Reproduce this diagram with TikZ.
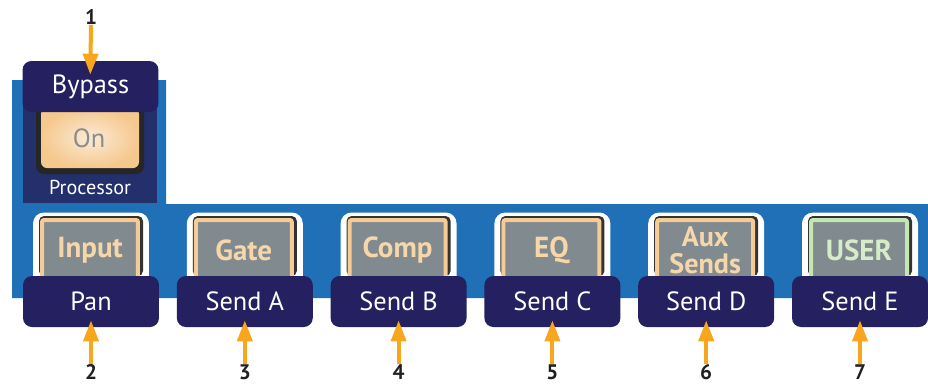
\documentclass[tikz,border=0pt]{standalone}
\usepackage{fontspec}
\setmainfont{PT Sans}
\usetikzlibrary{arrows.meta}
\definecolor{panelblue}{RGB}{32,112,184}
\definecolor{darkpanel}{RGB}{36,48,108}
\definecolor{navy}{RGB}{37,32,96}
\definecolor{arroworange}{RGB}{247,166,30}
\definecolor{keygray}{RGB}{128,138,143}
\definecolor{peach}{RGB}{245,204,150}
\definecolor{peachtext}{RGB}{247,214,170}
\definecolor{mint}{RGB}{196,230,176}
\definecolor{minttext}{RGB}{214,236,198}
\definecolor{numtext}{RGB}{35,31,32}
\definecolor{ongray}{RGB}{140,140,140}
\tikzset{
  labelbox/.style={fill=navy, rounded corners=0.18cm, minimum width=2.72cm,
    minimum height=1.02cm, text=white, font=\fontsize{15}{15}\selectfont, inner sep=0pt},
  numlabel/.style={text=numtext, font=\bfseries\fontsize{12}{12}\selectfont, inner sep=0pt},
  pointer/.style={arroworange, line width=0.08cm,
    -{Triangle[length=0.42cm, width=0.3cm]}},
  keyframe/.style={fill=white, rounded corners=0.22cm, minimum width=2.32cm,
    minimum height=1.5cm, inner sep=0pt},
  keycap/.style={fill=keygray, draw=#1, line width=0.08cm, rounded corners=0.04cm,
    minimum width=1.92cm, minimum height=1.2cm, inner sep=0pt, align=center},
  keytext/.style={font=\bfseries\fontsize{16.5}{13}\selectfont},
  auxtext/.style={font=\bfseries\fontsize{16}{15.5}\selectfont},
}
\begin{document}
\begin{tikzpicture}[x=0.02cm, y=-0.02cm]
  \useasboundingbox (0,0) rectangle (928,383);

  % panel
  \fill[panelblue] (12,80) -- (166,80) -- (166,204) -- (928,204) -- (928,298) -- (12,298) -- cycle;
  \fill[darkpanel] (23,80) rectangle (157,203);

  % processor key
  \fill[black!85, rounded corners=0.16cm] (36,104) rectangle (144,174);
  \shade[inner color=peach!40, outer color=peach!95!orange, rounded corners=0.12cm]
    (41,108) rectangle (139,168);
  \node[text=ongray, font=\fontsize{15}{15}\selectfont] (on) at (89,138) {On};
  \node[text=white, font=\fontsize{11.5}{11.5}\selectfont] (proc) at (90,187) {Processor};
  \node[labelbox] (bypass) at (90.5,86.5) {Bypass};

  % bottom keys
  \foreach \i/\key/\kt/\send/\num/\edge/\txt in {
      0/Input/keytext/Pan/2/peach/peachtext,
      1/Gate/keytext/Send A/3/peach/peachtext,
      2/Comp/keytext/Send B/4/peach/peachtext,
      3/EQ/keytext/Send C/5/peach/peachtext,
      4/{Aux\\Sends}/auxtext/Send D/6/peach/peachtext,
      5/USER/keytext/Send E/7/mint/minttext} {
    \pgfmathsetmacro{\cx}{91+153.8*\i}
    \node[keyframe] (frame\num) at (\cx,250) {};
    \fill[black!80, rounded corners=0.1cm] (\cx-52,216) rectangle (\cx+52,276);
    \node[keycap=\edge, \kt, text=\txt] (key\num) at (\cx-1,250) {\key};
    \node[labelbox] (send\num) at (\cx,301.5) {\send};
    \node[numlabel] (n\num) at (\cx,372) {\num};
    \draw[pointer, shorten >=-0.14cm] (n\num.north) -- (send\num.south);
  }

  % top pointer
  \node[numlabel] (n1) at (91,17) {1};
  \draw[pointer, shorten >=-0.28cm] (n1.south) -- (bypass.north);
\end{tikzpicture}
\end{document}
